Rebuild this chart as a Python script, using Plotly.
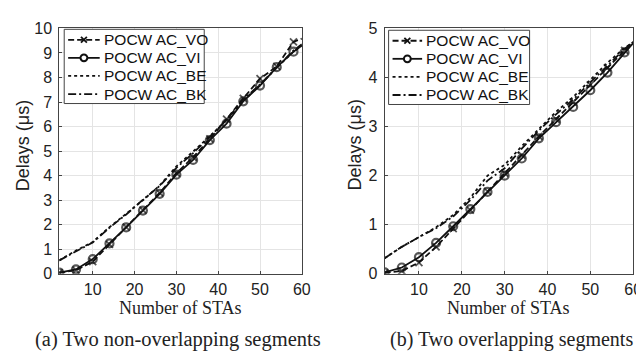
import plotly.graph_objects as go

x_sta = [2, 6, 10, 14, 18, 22, 26, 30, 34, 38, 42, 46, 50, 54, 58, 60]

# (a) Two non-overlapping segments
a_vo = [0.05, 0.15, 0.50, 1.20, 1.90, 2.60, 3.30, 4.10, 4.75, 5.50, 6.30, 7.15, 7.95, 8.45, 9.45, 9.58]
a_vi = [0.05, 0.18, 0.60, 1.24, 1.89, 2.58, 3.26, 4.04, 4.64, 5.45, 6.12, 7.03, 7.67, 8.42, 9.05, 9.30]
a_be = [0.55, 0.95, 1.30, 1.90, 2.45, 3.00, 3.60, 4.38, 4.98, 5.62, 6.25, 7.05, 7.70, 8.40, 9.05, 9.30]
a_bk = [0.55, 0.93, 1.28, 1.88, 2.42, 3.02, 3.58, 4.32, 4.92, 5.58, 6.28, 7.10, 7.72, 8.40, 9.10, 9.35]

# (b) Two overlapping segments
b_vo = [0.02, 0.06, 0.23, 0.55, 0.92, 1.30, 1.68, 2.05, 2.42, 2.80, 3.15, 3.50, 3.85, 4.20, 4.55, 4.72]
b_vi = [0.03, 0.13, 0.34, 0.63, 0.97, 1.32, 1.67, 2.00, 2.35, 2.76, 3.09, 3.40, 3.74, 4.10, 4.51, 4.70]
b_be = [0.32, 0.55, 0.75, 0.95, 1.20, 1.55, 2.00, 2.22, 2.60, 2.95, 3.30, 3.60, 3.95, 4.30, 4.60, 4.72]
b_bk = [0.32, 0.55, 0.75, 0.93, 1.17, 1.50, 1.90, 2.15, 2.55, 2.92, 3.25, 3.55, 3.90, 4.25, 4.58, 4.72]

names = ["POCW AC_VO", "POCW AC_VI", "POCW AC_BE", "POCW AC_BK"]
x_ticks = [10, 20, 30, 40, 50, 60]

INK = "#111"
DASH_VO = "6px,3px"
DASH_BE = "dot"
DASH_BK = "8px,3px,2px,3px"
LW = 1.8

msize = [8] * (len(x_sta) - 1) + [0]
msize_x = [7] * (len(x_sta) - 1) + [0]

fig = go.Figure()

def add_panel(vals, xa, ya):
    vo, vi, be, bk = vals
    fig.add_trace(go.Scatter(x=x_sta, y=vo, name=names[0], xaxis=xa, yaxis=ya, showlegend=False,
                             mode="lines+markers",
                             line=dict(color=INK, width=LW, dash=DASH_VO),
                             marker=dict(symbol="x-thin", size=msize_x, line=dict(color=INK, width=1.8))))
    fig.add_trace(go.Scatter(x=x_sta, y=vi, name=names[1], xaxis=xa, yaxis=ya, showlegend=False,
                             mode="lines+markers",
                             line=dict(color=INK, width=LW),
                             marker=dict(symbol="circle-open", size=msize, color=INK,
                                         line=dict(color=INK, width=2.2))))
    fig.add_trace(go.Scatter(x=x_sta, y=be, name=names[2], xaxis=xa, yaxis=ya, showlegend=False,
                             mode="lines", line=dict(color=INK, width=LW, dash=DASH_BE)))
    fig.add_trace(go.Scatter(x=x_sta, y=bk, name=names[3], xaxis=xa, yaxis=ya, showlegend=False,
                             mode="lines", line=dict(color=INK, width=LW, dash=DASH_BK)))

add_panel((a_vo, a_vi, a_be, a_bk), "x", "y")
add_panel((b_vo, b_vi, b_be, b_bk), "x2", "y2")

W, H = 644, 351
def px(v):
    return v / W
def py(v):
    return 1 - v / H

sans = "Liberation Sans, Arial, sans-serif"
serif = "Liberation Serif, Times New Roman, serif"

ax_common = dict(showgrid=True, gridcolor="#e4e4e4", gridwidth=1, zeroline=False,
                 showline=True, linecolor="#444", linewidth=1, mirror=True,
                 ticks="inside", ticklen=3, tickcolor="#444",
                 tickfont=dict(family=sans, size=16, color="#222"))

ydom = [py(271), py(13)]
fig.update_layout(
    width=W, height=H, margin=dict(l=0, r=0, t=0, b=0),
    paper_bgcolor="white", plot_bgcolor="white",
    xaxis=dict(domain=[px(52), px(298)], range=[2, 60], tickvals=x_ticks, anchor="y",
               ticklabelstandoff=1, **ax_common),
    yaxis=dict(domain=ydom, range=[0, 10], dtick=1, anchor="x", ticklabelstandoff=3, **ax_common),
    xaxis2=dict(domain=[px(382), px(634)], range=[2, 60], tickvals=x_ticks, anchor="y2",
                ticklabelstandoff=1, **ax_common),
    yaxis2=dict(domain=ydom, range=[0, 5], dtick=1, anchor="x2", ticklabelstandoff=3, **ax_common),
    showlegend=False,
)

shapes = []
ann = []

def legend_box(x0, y0, x1, y1, rows, sx0, sx1, tx):
    shapes.append(dict(type="rect", xref="paper", yref="paper",
                       x0=px(x0), x1=px(x1), y0=py(y1), y1=py(y0),
                       line=dict(color="#444", width=1), fillcolor="white", layer="above"))
    dashes = [DASH_VO, "solid", DASH_BE, DASH_BK]
    for i, yy in enumerate(rows):
        shapes.append(dict(type="line", xref="paper", yref="paper",
                           x0=px(sx0), x1=px(sx1), y0=py(yy), y1=py(yy),
                           line=dict(color=INK, width=LW, dash=dashes[i]), layer="above"))
        ann.append(dict(text=names[i], x=px(tx), y=py(yy), xanchor="left", yanchor="middle",
                        font=dict(family=sans, size=15.5, color=INK)))
    cx = (sx0 + sx1) / 2
    r = 3
    shapes.append(dict(type="line", xref="paper", yref="paper",
                       x0=px(cx - r), x1=px(cx + r), y0=py(rows[0] - r), y1=py(rows[0] + r),
                       line=dict(color=INK, width=1.8), layer="above"))
    shapes.append(dict(type="line", xref="paper", yref="paper",
                       x0=px(cx - r), x1=px(cx + r), y0=py(rows[0] + r), y1=py(rows[0] - r),
                       line=dict(color=INK, width=1.8), layer="above"))
    rc = 3.5
    shapes.append(dict(type="circle", xref="paper", yref="paper",
                       x0=px(cx - rc), x1=px(cx + rc), y0=py(rows[1] + rc), y1=py(rows[1] - rc),
                       line=dict(color=INK, width=2), fillcolor="white", layer="above"))

legend_box(57, 14, 199, 92, [25, 44, 63, 82], 61, 93, 95)
legend_box(386, 15, 529, 93, [26, 45, 64, 83], 390, 420, 422)

ann += [
    dict(text="Number of STAs", x=px(175), y=py(307), font=dict(family=serif, size=18, color="#222")),
    dict(text="Number of STAs", x=px(508), y=py(307), font=dict(family=serif, size=18, color="#222")),
    dict(text="(a) Two non-overlapping segments", x=px(172), y=py(340), font=dict(family=serif, size=20.5, color="#222")),
    dict(text="(b) Two overlapping segments", x=px(511), y=py(340), font=dict(family=serif, size=20, color="#222")),
    dict(text="Delays (μs)", x=px(16), y=py(136), textangle=-90, font=dict(family=sans, size=18, color="#222")),
    dict(text="Delays (μs)", x=px(352), y=py(136), textangle=-90, font=dict(family=sans, size=18, color="#222")),
]
for a in ann:
    a.update(xref="paper", yref="paper", showarrow=False)
    a.setdefault("xanchor", "center")
    a.setdefault("yanchor", "middle")
fig.update_layout(annotations=ann, shapes=shapes)

fig.write_html("out.html")
